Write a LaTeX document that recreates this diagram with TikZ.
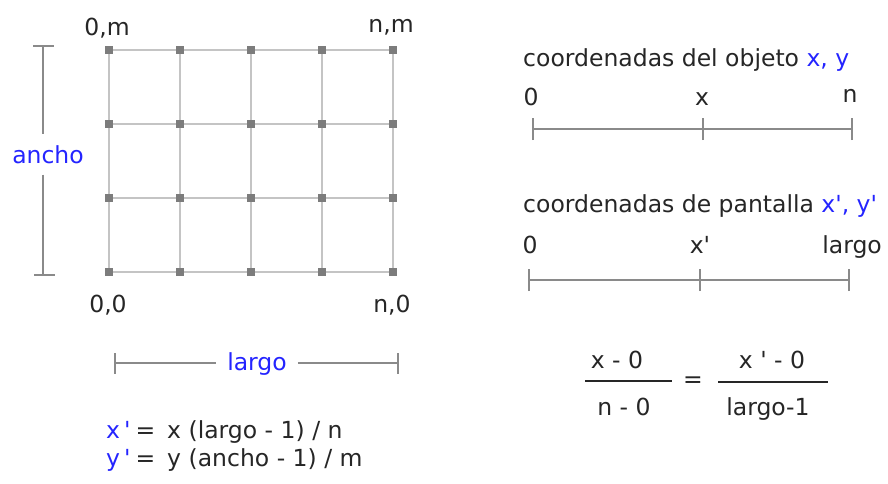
\documentclass[tikz,border=0pt]{standalone}
\usepackage{fontspec}
\setmainfont{DejaVu Sans}[Ligatures=TeXOff]
\usetikzlibrary{calc}

\definecolor{txtblack}{HTML}{262626}
\definecolor{txtblue}{HTML}{2424FF}
\definecolor{gridline}{HTML}{C4C4C4}
\definecolor{gridpt}{HTML}{7C7C7C}
\definecolor{barline}{HTML}{8A8A8A}

\tikzset{
  lbl/.style={font=\fontsize{23.5}{28}\selectfont, text=txtblack, inner sep=0pt, anchor=base},
  gridseg/.style={draw=gridline, line width=1.5pt},
  gridsq/.style={fill=gridpt, minimum size=8pt, inner sep=0pt},
  bar/.style={draw=barline, line width=1.8pt},
  fracbar/.style={draw=txtblack, line width=1.4pt}
}

\begin{document}
\begin{tikzpicture}[x=1pt, y=-1pt]
  \useasboundingbox (0,0) rectangle (888,483);

  %% ---- Grid of object points ----
  \foreach \i/\x in {0/109,1/180,2/251,3/322,4/393}
    \foreach \j/\y in {0/272,1/198,2/124,3/50}
      \node[gridsq] (p\i\j) at (\x,\y) {};
  \foreach \i in {0,...,4}
    \foreach \j/\k in {0/1,1/2,2/3}
      \draw[gridseg] (p\i\j) -- (p\i\k);
  \foreach \j in {0,...,3}
    \foreach \i/\k in {0/1,1/2,2/3,3/4}
      \draw[gridseg] (p\i\j) -- (p\k\j);

  %% Corner labels
  \node[lbl] (c0m) at (107,35)  {0,m};
  \node[lbl] (cnm) at (391,32)  {n,m};
  \node[lbl] (c00) at (108,312) {0,0};
  \node[lbl] (cn0) at (392,312) {n,0};

  %% ---- ancho bar ----
  \coordinate (atop) at (43,46);
  \coordinate (abot) at (43,275);
  \node[lbl, text=txtblue, inner ysep=11pt] (ancho) at (48,163) {ancho};
  \draw[bar] (atop) -- (atop |- ancho.north);
  \draw[bar] (abot |- ancho.south) -- (abot);
  \draw[bar] ([xshift=-10pt]atop) -- ([xshift=11pt]atop);
  \draw[bar] ([xshift=-9pt]abot) -- ([xshift=12pt]abot);

  %% ---- largo bar ----
  \coordinate (lleft) at (115,363);
  \coordinate (lright) at (398,363);
  \node[lbl, text=txtblue, inner xsep=11pt] (largo) at (257,370) {largo};
  \draw[bar] (lleft) -- (lleft -| largo.west);
  \draw[bar] (lright -| largo.east) -- (lright);
  \draw[bar] ([yshift=-10.5pt]lleft) -- ([yshift=10.5pt]lleft);
  \draw[bar] ([yshift=-10.5pt]lright) -- ([yshift=10.5pt]lright);

  %% Mapping formulas
  \node[lbl, anchor=base west] (fx) at (106,438)
    {\textcolor{txtblue}{x\hspace{4pt}'}\hspace{5pt}=\hspace{12pt}x (largo - 1) / n};
  \node[lbl, anchor=base west] (fy) at (106,466)
    {\textcolor{txtblue}{y\hspace{4pt}'}\hspace{5pt}=\hspace{12pt}y (ancho - 1) / m};

  %% ---- Object coordinates ----
  \node[lbl, anchor=base west] (tobj) at (523,66)
    {coordenadas del objeto \textcolor{txtblue}{x, y}};
  \coordinate (o0) at (533,129);
  \coordinate (ox) at (703,129);
  \coordinate (on) at (852,129);
  \draw[bar] (o0) -- (on);
  \foreach \t in {o0,ox,on}
    \draw[bar] ([yshift=-11pt]\t) -- ([yshift=11pt]\t);
  \node[lbl] (lo0) at (531,105) {0};
  \node[lbl] (lox) at (702,105) {x};
  \node[lbl] (lon) at (850,102) {n};

  %% ---- Screen coordinates ----
  \node[lbl, anchor=base west] (tscr) at (523,212)
    {coordenadas de pantalla \textcolor{txtblue}{x', y'}};
  \coordinate (s0) at (529,280);
  \coordinate (sx) at (700,280);
  \coordinate (sn) at (849,280);
  \draw[bar] (s0) -- (sn);
  \foreach \t in {s0,sx,sn}
    \draw[bar] ([yshift=-11pt]\t) -- ([yshift=11pt]\t);
  \node[lbl] (ls0) at (530,253) {0};
  \node[lbl] (lsx) at (700,253) {x'};
  \node[lbl, anchor=base east] (lsn) at (882,253) {largo};

  %% ---- Proportion ----
  \coordinate (f1l) at (585,381);
  \coordinate (f1r) at (672,381);
  \coordinate (f2l) at (718,382);
  \coordinate (f2r) at (828,382);
  \draw[fracbar] (f1l) -- (f1r);
  \draw[fracbar] (f2l) -- (f2r);
  \node[lbl] (n1) at (617,368) {x - 0};
  \node[lbl] (d1) at (624,415) {n - 0};
  \node[lbl, anchor=center] (eq) at (693,382) {=};
  \node[lbl] (n2) at (772,368) {x ' - 0};
  \node[lbl] (d2) at (768,415) {largo-1};

\end{tikzpicture}
\end{document}
